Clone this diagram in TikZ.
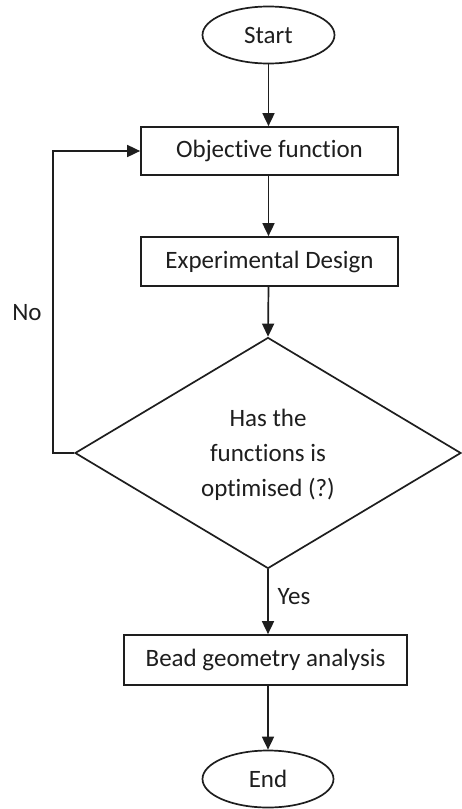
\documentclass[tikz,border=0pt]{standalone}
\usepackage{fontspec}
\setmainfont[RawFeature={-liga;-clig}]{Carlito}
\usetikzlibrary{arrows.meta,shapes.geometric,calc}
\definecolor{ink}{HTML}{1E1E1E}
\begin{document}
\begin{tikzpicture}[x=1pt,y=-1pt,
  every node/.style={font=\fontsize{25}{35}\selectfont, text=ink},
  line/.style={draw=ink, line width=1.7pt},
  arr/.style={line, -{Triangle[length=13pt,width=12pt]}},
  term/.style={ellipse, line, inner sep=0pt},
  proc/.style={rectangle, line, inner sep=0pt},
]
\useasboundingbox (0,0) rectangle (461,809);
\node[term, minimum width=132pt, minimum height=57pt] (start) at (268.5,35) {Start};
\node[proc, minimum width=257pt, minimum height=48pt] (obj) at (269.5,151) {Objective function};
\node[proc, minimum width=257pt, minimum height=49pt] (exp) at (269.5,261.5) {Experimental Design};
\node[diamond, line, inner sep=0pt, minimum width=386pt, minimum height=231pt] (dia) at (268,453) {};
\node[align=center, inner sep=0pt] (diatext) at (268,455) {Has the\\functions is\\optimised (?)};
\node[proc, minimum width=283pt, minimum height=50pt] (bead) at (265.5,660) {Bead geometry analysis};
\node[term, minimum width=131pt, minimum height=57pt] (end) at (268,779) {End};
\coordinate (fb) at (53,453);
\node (no) at (27,313) {No};
\node (yes) at (294,597) {Yes};
\draw[arr] (start.south) -- (start.south |- obj.north);
\draw[arr] (start.south |- obj.south) -- (start.south |- exp.north);
\draw[arr] (start.south |- exp.south) -- (dia.north);
\draw[arr] (dia.south) -- (dia.south |- bead.north);
\draw[arr] (dia.south |- bead.south) -- (end.north);
\draw[arr] (dia.west) -- (fb) |- (obj.west);
\end{tikzpicture}
\end{document}
